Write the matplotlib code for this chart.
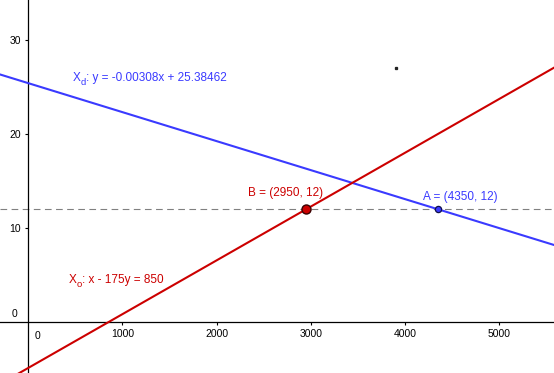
import matplotlib

matplotlib.use("Agg")
import matplotlib.pyplot as plt  # noqa: E402
import numpy as np  # noqa: E402
from matplotlib.transforms import offset_copy  # noqa: E402

# view window (data units)
x_lim = (-297, 5578)
y_lim = (-5.38, 34.2)

x_ticks = [1000, 2000, 3000, 4000, 5000]
y_ticks = [10, 20, 30]

# line definitions
blue_slope = -0.00308
blue_icpt = 25.38462
red_a, red_b, red_c = 1.0, -175.0, 850.0  # x - 175y = 850

level_y = 12
point_b = (2950, 12)
point_a = (4350, 12)
stray_pt = (3902, 27.0)

BLUE = "#3a3aff"
RED = "#cc0000"
FS = 8.5

plt.rcParams["font.family"] = ["Liberation Sans", "DejaVu Sans"]


def sub_label(ax, x, y, base, sub, rest, color):
    # GeoGebra-style name with a dropped subscript, built from three texts
    renderer = ax.figure.canvas.get_renderer()
    t1 = ax.text(x, y, base, color=color, fontsize=FS, ha="left", va="center")
    w1 = t1.get_window_extent(renderer).width * 72 / ax.figure.dpi
    tr = offset_copy(ax.transData, fig=ax.figure, x=w1, y=-3.2, units="points")
    t2 = ax.text(x, y, sub, color=color, fontsize=FS * 0.8, ha="left", va="center", transform=tr)
    w2 = t2.get_window_extent(renderer).width * 72 / ax.figure.dpi
    tr = offset_copy(ax.transData, fig=ax.figure, x=w1 + w2, y=0, units="points")
    ax.text(x, y, rest, color=color, fontsize=FS, ha="left", va="center", transform=tr)


fig = plt.figure(figsize=(5.54, 3.73), dpi=100)
ax = fig.add_axes([0, 0, 1, 1])
ax.set_xlim(*x_lim)
ax.set_ylim(*y_lim)

for side in ("top", "right"):
    ax.spines[side].set_visible(False)
ax.spines["left"].set_position(("data", 0))
ax.spines["bottom"].set_position(("data", 0))
for side in ("left", "bottom"):
    ax.spines[side].set_linewidth(0.9)

ax.set_xticks(x_ticks)
ax.set_yticks(y_ticks)
ax.tick_params(axis="both", direction="out", length=2.5, width=0.8, pad=2.5, labelsize=7.5)
ax.text(70, -0.9, "0", fontsize=7.5, ha="left", va="top")
ax.text(-110, 0.35, "0", fontsize=7.5, ha="right", va="bottom")

xs = np.array(x_lim)
ax.plot(xs, blue_slope * xs + blue_icpt, color=BLUE, lw=1.5, zorder=3)
ax.plot(xs, (red_a * xs - red_c) / -red_b, color=RED, lw=1.5, zorder=3)
ax.axhline(level_y, color="#808080", lw=0.8, dashes=(6, 4), zorder=2)

ax.plot(*point_b, "o", ms=6.5, mfc=RED, mec="#3a0000", mew=1.0, zorder=5)
ax.plot(*point_a, "o", ms=4.5, mfc=BLUE, mec="#10104a", mew=0.9, zorder=5)
ax.plot(*stray_pt, "s", ms=1.4, color="#222222", zorder=5)

sub_label(ax, 477, 25.9, "X", "d", ": y = -0.00308x + 25.38462", BLUE)
sub_label(ax, 430, 4.5, "X", "o", ": x - 175y = 850", RED)
ax.text(2330, 13.7, "B = (2950, 12)", color=RED, fontsize=FS, ha="left", va="center")
ax.text(4190, 13.3, "A = (4350, 12)", color=BLUE, fontsize=FS, ha="left", va="center")

fig.savefig("out.png", dpi=100)
